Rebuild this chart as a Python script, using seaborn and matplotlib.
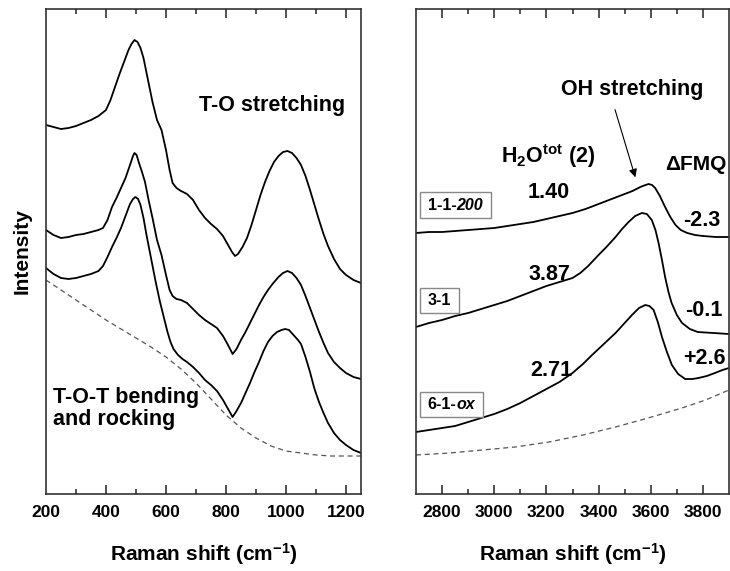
import numpy as np
import pandas as pd
import matplotlib
matplotlib.use("Agg")
from matplotlib import pyplot as plt
from matplotlib.ticker import MultipleLocator
from matplotlib.transforms import Bbox
from matplotlib.patches import Rectangle
import seaborn as sns

# ---- data (intensity in arbitrary units) ----
# left panel, silicate network region
x_top = [200, 225, 250, 275, 300, 325, 350, 375, 400, 415, 430, 445, 460, 475, 485, 495, 505, 515,
         525, 540, 555, 570, 585, 600, 612, 622, 635, 650, 670, 690, 710, 730, 750, 770, 790, 805,
         820, 830, 840, 855, 870, 885, 900, 915, 930, 945, 960, 975, 990, 1005, 1020, 1035, 1050,
         1065, 1080, 1095, 1110, 1125, 1140, 1160, 1180, 1200, 1225, 1250]
y_top = [369, 367, 365, 366, 368, 371, 374, 378, 384, 394, 407, 420, 432, 444, 450, 454, 452, 446,
         436, 414, 392, 374, 364, 344, 324, 311, 306, 303, 300, 294, 284, 276, 270, 265, 258, 250,
         242, 238, 240, 247, 256, 269, 284, 299, 312, 323, 332, 338, 342, 343, 341, 336, 329,
         318, 304, 289, 274, 260, 248, 235, 225, 219, 214, 211]

x_mid = [200, 225, 250, 275, 300, 325, 350, 375, 390, 405, 420, 435, 450, 465, 480, 490, 495, 502,
         510, 520, 530, 542, 555, 570, 585, 600, 612, 622, 635, 650, 670, 690, 710, 730, 750, 770,
         790, 805, 822, 835, 850, 865, 880, 895, 910, 925, 940, 955, 975, 990, 1005, 1020, 1035,
         1050, 1065, 1080, 1095, 1110, 1125, 1140, 1160, 1180, 1200, 1225, 1250]
y_mid = [264, 259, 256, 257, 259, 260, 262, 264, 266, 274, 287, 296, 306, 316, 329, 338, 341, 339,
         331, 322, 312, 294, 276, 254, 239, 219, 204, 198, 195, 194, 191, 185, 179, 174, 170, 166,
         158, 150, 140, 145, 154, 162, 171, 180, 189, 197, 204, 210, 217, 221, 223, 221, 216,
         209, 198, 186, 174, 162, 151, 141, 132, 126, 121, 117, 115]

x_bot = [200, 225, 250, 275, 300, 325, 350, 375, 390, 405, 420, 435, 450, 465, 480, 490, 498, 507,
         515, 525, 535, 550, 565, 580, 595, 605, 615, 625, 640, 655, 670, 690, 710, 730, 750, 770,
         790, 805, 822, 835, 850, 865, 880, 895, 910, 925, 940, 955, 970, 985, 997, 1010, 1025,
         1040, 1050, 1065, 1080, 1095, 1110, 1125, 1140, 1160, 1180, 1200, 1225, 1250]
y_bot = [226, 220, 216, 215, 216, 218, 220, 223, 228, 237, 247, 256, 266, 278, 290, 295, 297, 295,
         289, 276, 259, 236, 213, 192, 174, 162, 152, 145, 139, 135, 132, 127, 121, 114, 109, 103,
         94, 86, 77, 83, 91, 101, 111, 122, 132, 143, 152, 158, 162, 164, 165, 164, 159,
         154, 150, 137, 122, 105, 92, 81, 71, 61, 54, 49, 44, 41]

x_base_l = [200, 250, 300, 350, 400, 450, 500, 550, 600, 650, 700, 750, 800, 850, 900, 950,
            1000, 1050, 1100, 1150, 1250]
y_base_l = [214, 204, 194, 184, 174, 165, 156, 147, 137, 125, 111, 95, 79, 66, 56, 48,
            43, 41, 39, 38, 38]

# right panel, OH stretching region
x_s1 = [2700, 2750, 2800, 2850, 2900, 2950, 3000, 3050, 3100, 3150, 3200, 3250, 3300, 3350, 3400,
        3450, 3500, 3530, 3560, 3580, 3592, 3605, 3617, 3635, 3655, 3675, 3695, 3715, 3740, 3770,
        3800, 3850, 3900]
y_s1 = [261, 262, 262, 263, 264, 265, 266, 268, 270, 272, 275, 278, 281, 285, 290,
        295, 300, 303, 307, 309, 310, 309, 306, 298, 287, 277, 269, 264, 261, 259,
        258, 257, 257]

x_s2 = [2700, 2750, 2800, 2850, 2900, 2950, 3000, 3050, 3100, 3150, 3200, 3250, 3300, 3330, 3360,
        3400, 3430, 3465, 3490, 3515, 3540, 3566, 3585, 3604, 3618, 3630, 3643, 3655, 3668, 3680,
        3700, 3720, 3750, 3780, 3840, 3900]
y_s2 = [167, 171, 174, 178, 181, 185, 189, 193, 198, 203, 208, 212, 216, 221, 228,
        239, 247, 257, 265, 272, 278, 281, 280, 274, 264, 251, 234, 217, 202, 191,
        179, 171, 165, 162, 161, 160]

x_s3 = [2700, 2750, 2800, 2850, 2900, 2950, 3000, 3050, 3100, 3150, 3200, 3250, 3300, 3340, 3375,
        3420, 3465, 3500, 3528, 3555, 3579, 3595, 3611, 3627, 3643, 3662, 3681, 3705, 3732, 3760,
        3783, 3815, 3846, 3875, 3900]
y_s3 = [62, 64, 66, 68, 72, 76, 80, 85, 91, 98, 105, 112, 121, 130, 139,
        150, 161, 171, 179, 186, 189, 188, 184, 172, 157, 142, 129, 120, 115, 115,
        116, 118, 121, 124, 126]

x_base_r = [2700, 2830, 2955, 3080, 3210, 3340, 3465, 3590, 3720, 3810, 3900]
y_base_r = [39, 41, 44, 47, 52, 59, 67, 76, 86, 94, 104]

# sample name = plain part + italic part
sample_plain = ["1-1-", "3-1", "6-1-"]
sample_ital = ["200", "", "ox"]
water = ["1.40", "3.87", "2.71"]
dfmq = ["-2.3", "-0.1", "+2.6"]

sns.set_style("ticks")
plt.rcParams["font.family"] = ["Liberation Sans", "DejaVu Sans"]
plt.rcParams["font.weight"] = "bold"
plt.rcParams["text.color"] = "black"
plt.rcParams["axes.labelcolor"] = "black"
plt.rcParams["xtick.color"] = "black"
plt.rcParams["axes.unicode_minus"] = False
plt.rcParams["mathtext.fontset"] = "custom"
plt.rcParams["mathtext.rm"] = "Liberation Sans:bold"
plt.rcParams["mathtext.bf"] = "Liberation Sans:bold"
plt.rcParams["mathtext.default"] = "bf"


def long_df(pairs):
    rows = []
    for name, xs, ys in pairs:
        for a, b in zip(xs, ys):
            rows.append((name, a, b))
    return pd.DataFrame(rows, columns=["sample", "shift", "intensity"])


left = long_df([("top", x_top, y_top), ("mid", x_mid, y_mid), ("bot", x_bot, y_bot)])
right = long_df([("s1", x_s1, y_s1), ("s2", x_s2, y_s2), ("s3", x_s3, y_s3)])

fig = plt.figure(figsize=(7.3, 5.71), dpi=100)
ax1 = fig.add_axes([46 / 730, 77 / 571, 315 / 730, 485 / 571])
ax2 = fig.add_axes([416 / 730, 77 / 571, 313 / 730, 485 / 571])

sns.lineplot(data=left, x="shift", y="intensity", units="sample", estimator=None,
             sort=False, color="black", lw=1.3, ax=ax1)
ax1.plot(x_base_l, y_base_l, ls=(0, (4, 3)), color="#555555", lw=0.9)

sns.lineplot(data=right, x="shift", y="intensity", units="sample", estimator=None,
             sort=False, color="black", lw=1.3, ax=ax2)
ax2.plot(x_base_r, y_base_r, ls=(0, (4, 3)), color="#555555", lw=0.9)

ax1.set_xlim(200, 1250)
ax2.set_xlim(2700, 3900)
for ax in (ax1, ax2):
    ax.set_ylim(0, 485)
    ax.tick_params(axis="y", which="both", left=False, right=False, labelleft=False)
    for s in ax.spines.values():
        s.set_visible(True)
        s.set_linewidth(1.2)
        s.set_color("#333333")
    ax.set_xlabel("Raman shift (cm$^{-1}$)", fontsize=15, fontweight="bold", labelpad=15)
    ax.set_ylabel("")

ax1.set_ylabel("Intensity", fontsize=15, fontweight="bold", labelpad=10)

ax1.text(953, 389, "T-O stretching", ha="center", va="center", fontsize=15.5, fontweight="bold")
ax1.text(223, 107, "T-O-T bending\nand rocking", ha="left", va="top", fontsize=15.5,
         fontweight="bold", linespacing=1.05)

ax2.text(3529, 405, "OH stretching", ha="center", va="center", fontsize=15.5, fontweight="bold")
ax2.annotate("", xy=(3544, 314), xytext=(3460, 387),
             arrowprops=dict(arrowstyle="-|>", lw=0.8, color="black", mutation_scale=12))
ax2.text(3208, 338, r"H$_2$O$^{tot}$ (2)", ha="center", va="center", fontsize=15.5, fontweight="bold")
ax2.text(3774, 330, "\u0394FMQ", ha="center", va="center", fontsize=15, fontweight="bold")

water_pos = [(3208, 301), (3212, 219), (3220, 123)]
dfmq_pos = [(3797, 273), (3804, 184), (3804, 135)]
box_y = [289, 193.5, 89.5]
labels = []
for i in range(3):
    ax2.text(*water_pos[i], water[i], ha="center", va="center", fontsize=15.5, fontweight="bold")
    ax2.text(*dfmq_pos[i], dfmq[i], ha="center", va="center", fontsize=15.5, fontweight="bold")
    t1 = ax2.text(2745, box_y[i], sample_plain[i], ha="left", va="center", fontsize=11.5,
                  fontweight="bold", zorder=6)
    parts = [t1]
    if sample_ital[i]:
        t2 = ax2.annotate(sample_ital[i], xy=(1, 0), xycoords=t1, ha="left", va="bottom",
                          fontsize=11.5, fontweight="bold", style="italic", zorder=6)
        parts.append(t2)
    labels.append(parts)

# x ticks: positions come from the axis locators; the marks themselves are drawn
# as short line segments (inward, top and bottom) because the marker ticks did
# not show up in the rendered file
for ax in (ax1, ax2):
    ax.xaxis.set_major_locator(MultipleLocator(200))
    ax.xaxis.set_minor_locator(MultipleLocator(100))
    ax.tick_params(axis="x", which="both", bottom=True, top=False, length=0,
                   labelsize=12.5, pad=8)
    for lab in ax.get_xticklabels():
        lab.set_fontweight("bold")
    lo, hi = ax.get_xlim()
    trans = ax.get_xaxis_transform()
    for locs, frac in ((ax.xaxis.get_majorticklocs(), 0.019), (ax.xaxis.get_minorticklocs(), 0.010)):
        locs = [v for v in locs if lo < v < hi]
        ax.vlines(locs, 0, frac, transform=trans, colors="#222222", lw=1.1, clip_on=False, zorder=3)
        ax.vlines(locs, 1 - frac, 1, transform=trans, colors="#222222", lw=1.1, clip_on=False, zorder=3)

# frames around sample names, drawn under the text
fig.canvas.draw()
r = fig.canvas.get_renderer()
inv = ax2.transAxes.inverted()
for parts in labels:
    bb = Bbox.union([p.get_window_extent(r) for p in parts])
    x0, y0 = inv.transform((bb.x0 - 8, bb.y0 - 5))
    x1, y1 = inv.transform((bb.x1 + 8, bb.y1 + 5))
    ax2.add_patch(Rectangle((x0, y0), x1 - x0, y1 - y0, transform=ax2.transAxes,
                            fc="white", ec="#888888", lw=1, zorder=5, clip_on=False))

fig.savefig("out.png", dpi=100)
